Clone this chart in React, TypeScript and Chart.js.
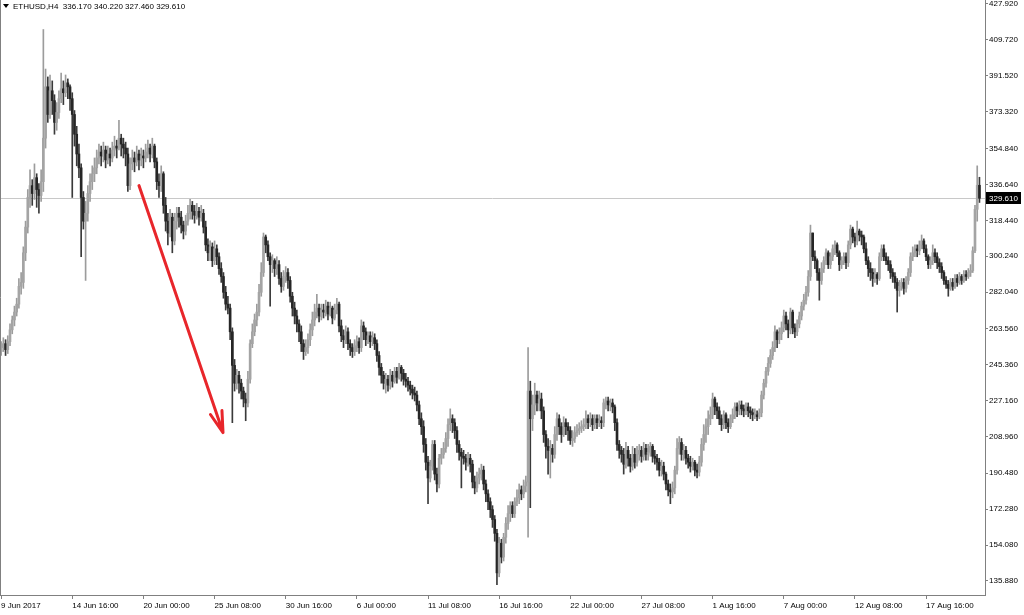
import React, { useEffect, useRef } from 'react';
import { Chart, registerables } from 'chart.js';

Chart.register(...registerables);

const symbolLabel = 'ETHUSD,H4';
const firstOpen = 252;

// H4 closes, 9 Jun 2017 08:00 onwards
const closes = [
  254, 256, 253, 257, 263, 268, 272, 276, 285, 287,
  302, 315, 330, 336, 332, 340, 334, 331, 338,
  360, 386, 372, 384, 379, 368, 373, 380, 385, 383, 388, 386, 380, 372, 362, 352, 345, 330, 318, 322, 332, 338, 342, 345,
  350, 353, 351, 354, 349, 352, 350, 354, 356, 355, 360, 357, 355, 352, 336,
  347, 350, 348, 352, 349, 351, 350, 353, 355, 352, 356,
  348, 338, 336, 342, 326, 318, 312, 320, 308,
  318, 322, 320, 316, 313, 318, 322, 326, 323, 321, 323, 320, 322,
  315, 306, 302, 305, 298, 304, 300, 294,
  290, 282, 276, 274,
  262, 245, 236, 240, 236, 232, 228, 226,
  238, 256, 262, 268, 272, 282, 292,
  310, 306, 300, 296, 298, 294, 296,
  289, 285, 290, 292, 288,
  280, 274, 270, 266, 262, 256, 252, 254,
  258, 263, 268, 272,
  274, 270, 273, 272, 275, 271, 274, 269, 273, 276,
  265, 260, 258, 262, 256, 254, 252, 255, 257, 254, 265,
  262, 258, 260, 257, 259, 256,
  250, 244, 240, 236,
  238, 235, 240, 237, 242, 239, 244, 241, 238, 237, 235, 233,
  231, 230, 225, 218, 214,
  205, 196, 188, 194, 205, 190, 185, 198,
  200, 203, 208, 215, 218, 216,
  212, 205, 201, 199,
  198, 196, 198, 195,
  186, 183, 188, 190, 192,
  185, 180, 176, 172, 167, 160,
  140, 155,
  148, 158, 165, 170, 174,
  170, 176, 178, 182, 180, 184, 186,
  232, 218, 225, 230, 226,
  228, 222, 210, 204, 202, 203, 200,
  210, 218, 214, 210, 216, 214, 212,
  207, 208, 211, 212, 213, 214, 215,
  218, 216, 218, 215, 218, 216, 217, 216,
  226, 227, 225, 226, 224,
  216, 205, 202,
  200, 195, 202, 198, 194, 200, 196,
  200, 202, 199, 203, 200, 201, 204, 199, 198,
  196, 192, 194, 190,
  185, 182, 181, 183,
  192, 203, 206, 200,
  202, 198, 196, 194, 196, 192, 191,
  196, 205, 210, 214,
  218, 220, 228, 224, 222,
  218, 215, 220, 216, 214, 218, 220,
  224, 222, 225, 223, 222, 224, 222, 221, 220,
  220, 219, 221,
  230, 236, 242, 246, 250, 254, 262, 258, 261,
  264, 270, 266, 263,
  272, 264, 262, 266, 270,
  275, 278, 282,
  290, 312, 300, 298,
  292, 288, 294,
  298, 302, 296, 300, 304, 306, 302, 296,
  298, 300, 297,
  306, 314, 310, 308, 313, 311, 310,
  304, 298, 294, 292, 289,
  291, 289,
  300, 304, 300, 298, 296,
  292, 290, 287, 283, 285, 287,
  284, 288, 292,
  300, 302, 304, 303, 306, 308, 304, 300,
  296, 298, 302, 300, 297, 295,
  292, 288, 286, 284, 287,
  285, 289, 287, 290, 288, 291, 290, 292, 293,
  303, 324, 336.17, 329.61,
];

const highs = [
  257, 259, 258, 260, 266, 270, 275, 279, 289, 292,
  305, 318, 334, 344, 339, 347, 342, 337, 344,
  415, 395, 391, 392, 389, 382, 378, 384, 393, 389, 392, 390, 387, 383, 374, 366, 357, 347, 333, 328, 336, 342, 346, 350,
  354, 357, 356, 358, 356, 356, 355, 358, 361, 359, 369, 362, 360, 358, 355,
  350, 354, 353, 356, 354, 355, 354, 357, 359, 357, 360,
  357, 350, 342, 346, 343, 330, 322, 324, 322,
  322, 325, 325, 323, 318, 321, 326, 329, 328, 326, 327, 325, 326,
  324, 318, 309, 308, 307, 308, 306, 302,
  297, 292, 285, 280,
  276, 264, 248, 243, 242, 238, 234, 231,
  242, 258, 266, 271, 276, 286, 297,
  312, 311, 308, 302, 301, 299, 300,
  298, 292, 293, 295, 294,
  290, 282, 277, 273, 268, 265, 258, 258,
  261, 266, 272, 276,
  281, 276, 276, 276, 278, 277, 277, 275, 276, 279,
  277, 268, 263, 265, 264, 258, 256, 258, 260, 259, 268,
  267, 264, 262, 262, 262, 261,
  258, 252, 246, 242,
  241, 240, 243, 242, 244, 244, 246, 245, 243, 241, 239, 237,
  235, 234, 232, 227, 221,
  217, 208, 199, 197, 207, 207, 193, 200,
  203, 206, 211, 218, 223, 220,
  218, 214, 207, 203,
  202, 200, 201, 200,
  197, 189, 191, 193, 195,
  194, 187, 182, 178, 174, 169,
  162, 158,
  157, 160, 168, 174, 176,
  176, 178, 182, 185, 184, 187, 189,
  254, 237, 230, 236, 232,
  232, 231, 224, 212, 208, 207, 205,
  214, 221, 220, 216, 219, 218, 216,
  214, 212, 214, 215, 216, 217, 218,
  222, 220, 221, 220, 220, 220, 220, 219,
  228, 229, 229, 228, 228,
  225, 218, 207,
  204, 203, 206, 204, 200, 204, 203,
  204, 205, 204, 206, 205, 205, 206, 205, 202,
  200, 198, 197, 196,
  191, 187, 185, 186,
  194, 208, 209, 208,
  205, 204, 200, 199, 198, 197, 195,
  199, 208, 215, 218,
  222, 224, 231, 229, 226,
  224, 220, 222, 221, 218, 220, 223,
  226, 226, 227, 227, 225, 226, 226, 224, 223,
  223, 222, 223,
  232, 238, 244, 249, 253, 257, 265, 263, 264,
  267, 273, 272, 268,
  274, 273, 266, 268, 272,
  277, 281, 285,
  293, 316, 312, 303,
  299, 294, 297,
  300, 304, 303, 302, 306, 308, 307, 303,
  300, 302, 302,
  308, 316, 315, 312, 318, 314, 313,
  311, 307, 300, 297, 294,
  294, 292,
  302, 306, 306, 302, 300,
  298, 294, 292, 289, 288, 289,
  289, 290, 294,
  302, 305, 306, 306, 308, 311, 309, 306,
  301, 300, 306, 304, 302, 299,
  297, 293, 290, 288, 289,
  289, 291, 291, 292, 291, 293, 293, 294, 296,
  305, 326, 346, 340.22,
];

const lows = [
  250, 252, 250, 251, 255, 261, 265, 270, 274, 281,
  284, 298, 312, 325, 326, 329, 325, 322, 328,
  333, 355, 368, 370, 372, 362, 364, 370, 378, 377, 381, 380, 374, 330, 356, 346, 340, 300, 314, 288, 318, 328, 334, 338,
  342, 347, 346, 348, 345, 347, 346, 348, 351, 350, 354, 351, 350, 346, 333,
  334, 344, 343, 346, 344, 346, 345, 348, 350, 348, 350,
  345, 334, 330, 333, 322, 313, 306, 310, 302,
  306, 314, 315, 312, 309, 311, 316, 319, 319, 317, 319, 316, 318,
  312, 303, 298, 298, 295, 296, 296, 291,
  287, 279, 273, 271,
  258, 216, 232, 233, 231, 228, 224, 217,
  224, 236, 254, 260, 265, 270, 280,
  290, 302, 298, 275, 292, 290, 291,
  286, 282, 283, 287, 284,
  277, 270, 266, 262, 257, 252, 248, 250,
  251, 255, 260, 265,
  269, 267, 268, 269, 270, 268, 270, 266, 268, 271,
  262, 257, 254, 256, 253, 250, 249, 250, 252, 251, 252,
  258, 255, 256, 254, 255, 253,
  247, 240, 236, 233,
  231, 232, 233, 234, 236, 236, 238, 237, 235, 234, 232, 230,
  228, 227, 222, 215, 210,
  201, 192, 175, 186, 192, 187, 181, 183,
  195, 198, 201, 204, 212, 211,
  208, 201, 197, 183,
  195, 192, 194, 191,
  183, 180, 181, 185, 187,
  182, 176, 172, 168, 163, 156,
  134, 138,
  145, 146, 155, 162, 166,
  168, 168, 174, 175, 177, 178, 181,
  158, 173, 212, 220, 222,
  222, 218, 206, 198, 190, 188, 196,
  198, 207, 210, 206, 209, 210, 207,
  205, 204, 206, 209, 210, 211, 212,
  213, 213, 214, 212, 213, 213, 214, 213,
  214, 223, 222, 222, 221,
  212, 202, 198,
  196, 190, 193, 194, 191, 192, 193,
  194, 197, 196, 197, 197, 197, 199, 196, 195,
  192, 189, 189, 187,
  182, 179, 175, 178,
  180, 190, 200, 197,
  197, 195, 193, 191, 192, 189, 188,
  189, 194, 202, 206,
  210, 215, 218, 220, 218,
  215, 212, 213, 213, 211, 213, 216,
  218, 219, 220, 220, 219, 220, 219, 218, 217,
  218, 217, 218,
  219, 228, 234, 240, 244, 248, 252, 254, 256,
  258, 262, 263, 259,
  261, 261, 259, 260, 264,
  268, 273, 276,
  280, 288, 298, 294,
  288, 278, 286,
  292, 296, 294, 294, 298, 301, 300, 293,
  294, 296, 294,
  295, 304, 307, 305, 306, 308, 306,
  302, 296, 290, 288, 285,
  287, 286,
  288, 298, 298, 296, 293,
  289, 287, 284, 272, 280, 283,
  281, 282, 286,
  290, 298, 300, 300, 301, 304, 302, 298,
  294, 294, 296, 297, 294, 292,
  289, 286, 284, 280, 283,
  283, 284, 285, 286, 286, 287, 288, 289, 290,
  292, 302, 318, 327.46,
];

const priceTicks = [
  427.92, 409.72, 391.52, 373.32, 354.84, 336.64, 318.44, 300.24, 282.04,
  263.56, 245.36, 227.16, 208.96, 190.48, 172.28, 154.08, 135.88,
];

const dateLabelBars = [0, 32, 64, 96, 128, 160, 192, 224, 256, 288, 320, 352, 384, 416];
const dateLabels = [
  '9 Jun 2017', '14 Jun 16:00', '20 Jun 00:00', '25 Jun 08:00', '30 Jun 16:00',
  '6 Jul 00:00', '11 Jul 08:00', '16 Jul 16:00', '22 Jul 00:00', '27 Jul 08:00',
  '1 Aug 16:00', '7 Aug 00:00', '12 Aug 08:00', '17 Aug 16:00',
];

const slotCount = 443;
const priceMin = 128.79;
const priceMax = 429.94;

const arrowFrom = { bar: 62, price: 336 };
const arrowTo = { bar: 99.8, price: 211 };

const FONT = '"Liberation Sans", Arial, sans-serif';

export default function App() {
  const ref = useRef<HTMLCanvasElement>(null);

  useEffect(() => {
    if (!ref.current) return;
    const opens = closes.map((c, i) => (i === 0 ? firstOpen : closes[i - 1]));
    const his = closes.map((c, i) => Math.max(highs[i] ?? c, c, opens[i]));
    const los = closes.map((c, i) => Math.min(lows[i] ?? c, c, opens[i]));
    const bull = closes.map((c, i) => c >= opens[i]);
    const xLabels = Array.from({ length: slotCount }, (_, i) => {
      const k = dateLabelBars.indexOf(i);
      return k >= 0 ? dateLabels[k] : '';
    });
    const last = closes.length - 1;
    const lastPrice = closes[last];

    const mt4Plugin = {
      id: 'mt4',
      beforeDatasetsDraw(chart: any) {
        const { ctx, chartArea, scales } = chart;
        const y = Math.round(scales.y.getPixelForValue(lastPrice)) + 0.5;
        ctx.save();
        ctx.strokeStyle = '#c8c8c8';
        ctx.lineWidth = 1;
        ctx.beginPath();
        ctx.moveTo(chartArea.left, y);
        ctx.lineTo(chartArea.right, y);
        ctx.stroke();
        ctx.restore();
      },
      afterDraw(chart: any) {
        const { ctx, chartArea, scales } = chart;
        ctx.save();
        // left frame line
        ctx.strokeStyle = '#808080';
        ctx.lineWidth = 1;
        ctx.beginPath();
        ctx.moveTo(chartArea.left + 0.5, chartArea.top);
        ctx.lineTo(chartArea.left + 0.5, chartArea.bottom);
        ctx.stroke();

        // red arrow
        const x1 = scales.x.getPixelForValue(arrowFrom.bar);
        const y1 = scales.y.getPixelForValue(arrowFrom.price);
        const x2 = scales.x.getPixelForValue(arrowTo.bar);
        const y2 = scales.y.getPixelForValue(arrowTo.price);
        ctx.strokeStyle = '#e8262b';
        ctx.lineWidth = 3;
        ctx.lineCap = 'round';
        ctx.lineJoin = 'round';
        ctx.beginPath();
        ctx.moveTo(x1, y1);
        ctx.lineTo(x2, y2);
        const ang = Math.atan2(y1 - y2, x1 - x2);
        const head = 22;
        const spread = 0.28;
        ctx.moveTo(x2 + head * Math.cos(ang - spread), y2 + head * Math.sin(ang - spread));
        ctx.lineTo(x2, y2);
        ctx.lineTo(x2 + head * Math.cos(ang + spread), y2 + head * Math.sin(ang + spread));
        ctx.stroke();

        // price label box
        const py = scales.y.getPixelForValue(lastPrice);
        ctx.fillStyle = '#000';
        ctx.fillRect(chartArea.right + 1, Math.round(py) - 6, 35, 12);
        ctx.fillStyle = '#fff';
        ctx.font = `8px ${FONT}`;
        ctx.textBaseline = 'middle';
        ctx.textAlign = 'left';
        ctx.fillText(lastPrice.toFixed(3), chartArea.right + 4, Math.round(py) + 0.5);

        // header
        ctx.fillStyle = '#000';
        ctx.beginPath();
        ctx.moveTo(3, 4);
        ctx.lineTo(9, 4);
        ctx.lineTo(6, 8);
        ctx.closePath();
        ctx.fill();
        const hdr = `${symbolLabel}  ${opens[last].toFixed(3)} ${his[last].toFixed(3)} ${los[last].toFixed(3)} ${lastPrice.toFixed(3)}`;
        ctx.font = `8px ${FONT}`;
        ctx.textBaseline = 'middle';
        ctx.fillText(hdr, 13, 6.5);
        ctx.restore();
      },
    };

    const chart = new Chart(ref.current, {
      type: 'bar',
      data: {
        labels: xLabels,
        datasets: [
          {
            label: 'body',
            data: closes.map((c, i) => [opens[i], c]) as any,
            backgroundColor: bull.map((b) => (b ? '#a4a4a4' : '#262626')),
            borderWidth: 0,
            barThickness: 2,
            minBarLength: 1,
            grouped: false,
            order: 0,
          } as any,
          {
            label: 'wick',
            data: closes.map((c, i) => [los[i], his[i]]) as any,
            backgroundColor: bull.map((b) => (b ? '#9c9c9c' : '#3a3a3a')),
            borderWidth: 0,
            barThickness: 1,
            grouped: false,
            order: 1,
          } as any,
        ],
      },
      options: {
        responsive: false,
        devicePixelRatio: 1,
        animation: false,
        layout: { padding: 0 },
        plugins: {
          legend: { display: false },
          tooltip: { enabled: false },
          title: { display: false },
        },
        scales: {
          x: {
            type: 'category',
            offset: true,
            grid: {
              display: true,
              drawOnChartArea: false,
              drawTicks: true,
              tickLength: 4,
              offset: false,
              color: (c: any) => (xLabels[c.index] ? '#808080' : 'rgba(0,0,0,0)'),
            },
            border: { display: true, color: '#808080', width: 1 },
            ticks: {
              autoSkip: false,
              maxRotation: 0,
              minRotation: 0,
              align: 'start',
              padding: 2,
              color: '#000',
              font: { family: FONT, size: 8 },
              callback: (_v: any, i: number) => xLabels[i],
            },
            afterFit: (s: any) => {
              s.height = 20;
              s.paddingLeft = 0;
              s.paddingRight = 0;
            },
          } as any,
          y: {
            type: 'linear',
            position: 'right',
            min: priceMin,
            max: priceMax,
            grid: {
              display: true,
              drawOnChartArea: false,
              drawTicks: true,
              tickLength: 3,
              color: '#808080',
            },
            border: { display: true, color: '#808080', width: 1 },
            ticks: {
              padding: 1,
              color: '#000',
              font: { family: FONT, size: 8 },
              callback: (v: any) => Number(v).toFixed(3),
            },
            afterBuildTicks: (s: any) => {
              s.ticks = priceTicks.map((v) => ({ value: v }));
            },
            afterFit: (s: any) => {
              s.width = 39;
              s.paddingTop = 0;
              s.paddingBottom = 0;
            },
          } as any,
        },
      },
      plugins: [mt4Plugin],
    });

    return () => chart.destroy();
  }, []);

  return (
    <div style={{ position: 'absolute', left: 0, top: 0, width: 1024, height: 615, background: '#fff' }}>
      <canvas ref={ref} width={1024} height={615} style={{ display: 'block' }} />
    </div>
  );
}
